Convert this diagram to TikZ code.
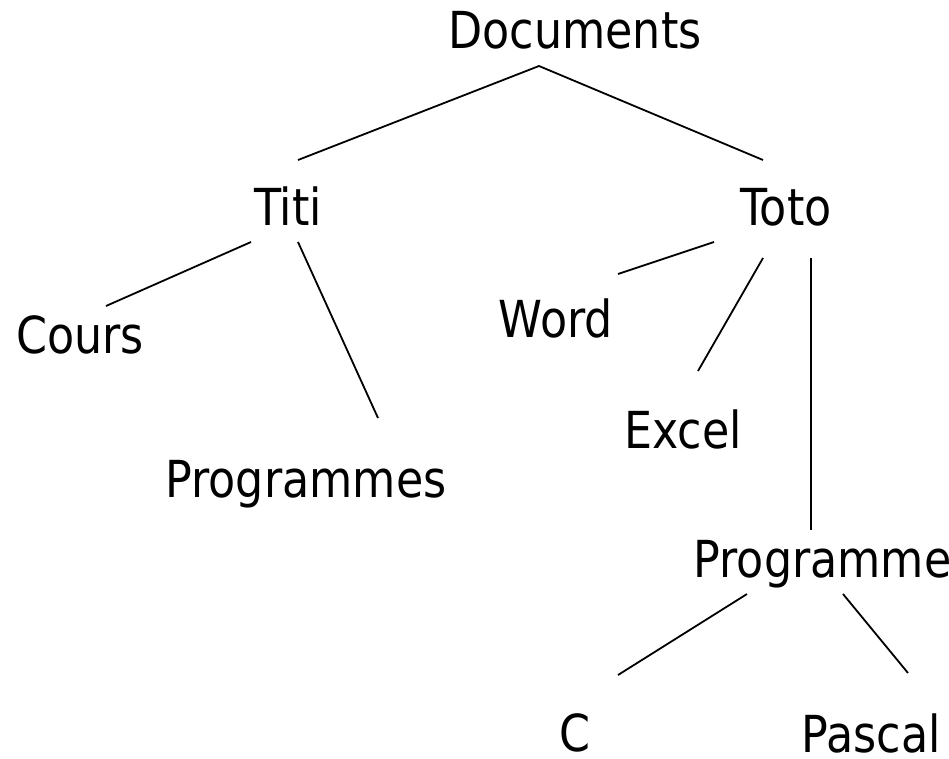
\documentclass[tikz,border=0pt]{standalone}
\usepackage{fontspec}
\setmainfont{DejaVu Sans}[FakeStretch=0.87]
\begin{document}
\begin{tikzpicture}[x=1pt,y=-1pt,
  label/.style={anchor=base,inner sep=0pt,font=\fontsize{51}{56}\selectfont},
  edge/.style={line width=1.8pt,line cap=butt}]
  \useasboundingbox (0,0) rectangle (949,758);
  \clip (0,0) rectangle (949,758);

  % folder names
  \node[label] (documents) at (575,48)  {Documents};
  \node[label] (titi)      at (288,225) {Titi};
  \node[label] (toto)      at (786,225) {Toto};
  \node[label] (cours)     at (80,353)  {Cours};
  \node[label] (progA)     at (306,497) {Programmes};
  \node[label] (word)      at (556,337) {Word};
  \node[label] (excel)     at (683,448) {Excel};
  \node[label] (progB)     at (834,577) {Programmes};
  \node[label] (c)         at (575,751) {C};
  \node[label] (pascal)    at (871,752) {Pascal};

  % end points of the branches
  \coordinate (documents-s) at (539,66);
  \coordinate (titi-n)      at (298,160);
  \coordinate (toto-n)      at (763,160);
  \coordinate (titi-sw)     at (251,242);
  \coordinate (titi-se)     at (298,242);
  \coordinate (cours-ne)    at (106,306);
  \coordinate (progA-n)     at (378,418);
  \coordinate (toto-sw)     at (714,242);
  \coordinate (toto-s)      at (763,258);
  \coordinate (toto-se)     at (811,258);
  \coordinate (word-ne)     at (618,274);
  \coordinate (excel-n)     at (698,371);
  \coordinate (progB-n)     at (811,530);
  \coordinate (progB-sw)    at (747,594);
  \coordinate (progB-se)    at (843,594);
  \coordinate (c-n)         at (618,675);
  \coordinate (pascal-n)    at (908,673);

  % branches
  \draw[edge] (titi-n) -- (documents-s) -- (toto-n);
  \draw[edge] (titi-sw) -- (cours-ne);
  \draw[edge] (titi-se) -- (progA-n);
  \draw[edge] (toto-sw) -- (word-ne);
  \draw[edge] (toto-s) -- (excel-n);
  \draw[edge] (toto-se) -- (progB-n);
  \draw[edge] (progB-sw) -- (c-n);
  \draw[edge] (progB-se) -- (pascal-n);
\end{tikzpicture}
\end{document}
